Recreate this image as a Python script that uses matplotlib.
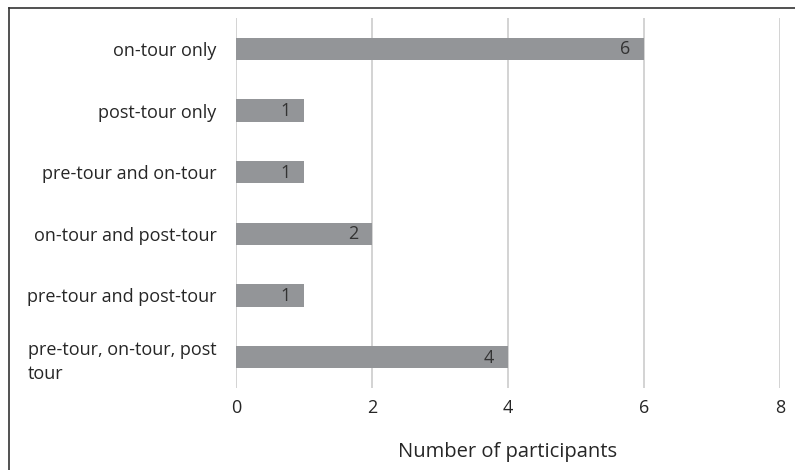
import matplotlib.pyplot as plt
from matplotlib.lines import Line2D

# data
categories = ["on-tour only", "post-tour only", "pre-tour and on-tour",
              "on-tour and post-tour", "pre-tour and post-tour",
              "pre-tour, on-tour, post\ntour"]
participants = [6, 1, 1, 2, 1, 4]
x_ticks = [0, 2, 4, 6, 8]

plt.rcParams['font.family'] = ['Open Sans', 'DejaVu Sans']

fig = plt.figure(figsize=(7.95, 4.70), dpi=100)
ax = fig.add_axes([236/795, 1 - 388/470, 544/795, 370/470])

ypos = list(range(len(categories)))
bars = ax.barh(ypos, participants, height=0.36, color='#939598', zorder=3)

for y, v in zip(ypos, participants):
    ax.text(v - 0.2, y + 0.01, str(v), ha='right', va='center',
            fontsize=13, color='#333333', zorder=4)

ax.set_xlim(0, 8)
ax.set_ylim(len(categories) - 0.5, -0.5)
ax.set_xticks(x_ticks)
ax.set_yticks(ypos)
ax.set_yticklabels(categories, fontsize=13, color='#262626')
for lab in ax.get_yticklabels():
    lab.set_multialignment('left')
    lab.set_linespacing(1.4)
ax.tick_params(axis='x', labelsize=13, colors='#262626', length=0, pad=8)
ax.tick_params(axis='y', length=0, pad=14)
ax.grid(axis='x', color='#cccccc', linewidth=1.2, zorder=0)
for s in ax.spines.values():
    s.set_visible(False)

ax.set_xlabel("Number of participants", fontsize=14.5, color='#262626', labelpad=18)

# outer frame (left and top)
fig.add_artist(Line2D([9/795, 9/795], [0, 1 - 8/470], color='#333333', lw=1.2))
fig.add_artist(Line2D([9/795, 1], [1 - 8/470, 1 - 8/470], color='#333333', lw=1.2))

fig.savefig("out.png", dpi=100)
